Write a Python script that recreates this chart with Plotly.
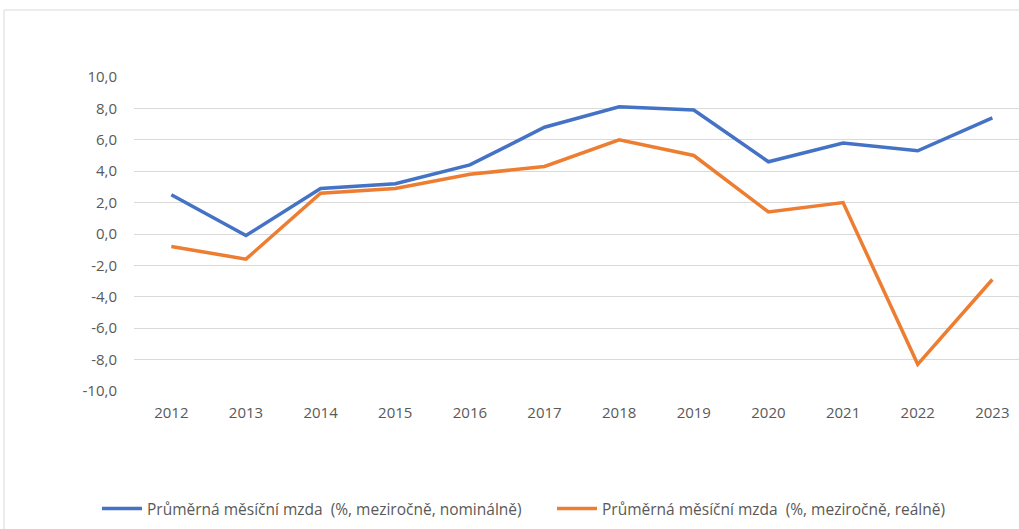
import plotly.graph_objects as go

years = ["2012", "2013", "2014", "2015", "2016", "2017", "2018", "2019", "2020", "2021", "2022", "2023"]
nominal = [2.5, -0.1, 2.9, 3.2, 4.4, 6.8, 8.1, 7.9, 4.6, 5.8, 5.3, 7.4]
real = [-0.8, -1.6, 2.6, 2.9, 3.8, 4.3, 6.0, 5.0, 1.4, 2.0, -8.3, -2.9]
name_nominal = "Průměrná měsíční mzda  (%, meziročně, nominálně)"
name_real = "Průměrná měsíční mzda  (%, meziročně, reálně)"
y_tickvals = [-10, -8, -6, -4, -2, 0, 2, 4, 6, 8, 10]
y_ticktext = ["-10,0", "-8,0", "-6,0", "-4,0", "-2,0", "0,0", "2,0", "4,0", "6,0", "8,0", "10,0"]

W, H = 1019, 529
L, R, T, B = 134, 0, 77, 138
pw, ph = W - L - R, H - T - B
cat_px = 74.64
x_right = -0.5 + pw / cat_px

fig = go.Figure()
fig.add_trace(go.Scatter(x=years, y=nominal, mode="lines", name=name_nominal,
                         line=dict(color="#4472C4", width=3.5), legend="legend"))
fig.add_trace(go.Scatter(x=years, y=real, mode="lines", name=name_real,
                         line=dict(color="#ED7D31", width=3.5), legend="legend2"))

font_family = "Open Sans, sans-serif"
leg_common = dict(orientation="h", xref="container", yref="container",
                  y=1 - 509 / H, xanchor="left", yanchor="middle",
                  font=dict(size=15.5, color="#595959", family=font_family),
                  itemwidth=40, bgcolor="rgba(0,0,0,0)")
fig.update_layout(
    width=W, height=H,
    margin=dict(l=L, r=R, t=T, b=B, pad=0),
    paper_bgcolor="white", plot_bgcolor="white",
    font=dict(family=font_family, size=15, color="#595959"),
    showlegend=True,
    legend=dict(x=(102 - 5) / W, **leg_common),
    legend2=dict(x=(557 - 5) / W, **leg_common),
    xaxis=dict(type="category", range=[-0.5, x_right],
               showgrid=False, zeroline=False, showline=False,
               ticks="", ticklabelstandoff=11, tickfont=dict(size=15)),
    yaxis=dict(range=[-10, 10], tickvals=y_tickvals, ticktext=y_ticktext,
               showgrid=True, gridcolor="#D9D9D9", gridwidth=1,
               zeroline=False, showline=False, ticks="",
               ticklabelstandoff=16, tickfont=dict(size=15)),
    shapes=[dict(type="rect", xref="paper", yref="paper",
                 x0=(4 - L) / pw, x1=(W + 10 - L) / pw,
                 y0=(H - B - (H + 10)) / ph, y1=(H - B - 10) / ph,
                 line=dict(color="#D9D9D9", width=1), fillcolor="rgba(0,0,0,0)",
                 layer="below")],
)

fig.write_html("out.html", config={"displayModeBar": False},
               post_script="document.body.style.margin='0';document.body.style.overflow='hidden';")
